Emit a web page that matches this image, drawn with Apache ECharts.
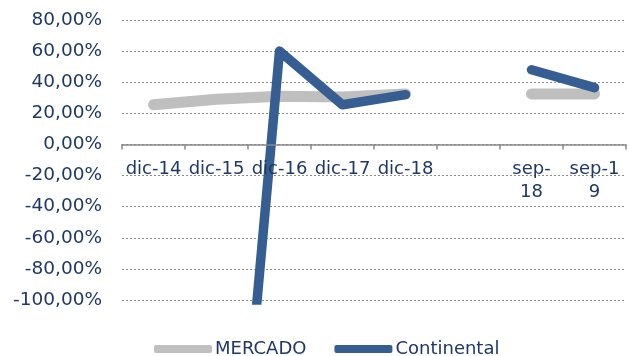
<!DOCTYPE html>
<html>
<head>
<meta charset="utf-8">
<script src="https://cdn.jsdelivr.net/npm/echarts@6/dist/echarts.min.js"></script>
<style>html,body{margin:0;padding:0;background:#fff}#c{width:629px;height:356px}</style>
</head>
<body>
<div id="c"></div>
<script>
const categories = ['dic-14', 'dic-15', 'dic-16', 'dic-17', 'dic-18', '', 'sep-\n18', 'sep-1\n9'];
const mercado = [25.5, 29, 31, 30.5, 32.5, null, 32.5, 32.5];
const continental = [null, -390, 60, 25.5, 32, null, 48, 36.5];
const seriesNames = ['MERCADO', 'Continental'];
const yMin = -100, yMax = 80, yStep = 20;

const textColor = '#1F3864';
const font = 'DejaVu Sans';
const gridTop = 20, gridBottom = 56, chartH = 356;
const plotH = chartH - gridTop - gridBottom;
// x axis sits on the zero line: shift it up from the grid bottom
const zeroOffset = -plotH * (0 - yMin) / (yMax - yMin);

const chart = echarts.init(document.getElementById('c'), null, {renderer: 'canvas'});
chart.setOption({
  animation: false,
  grid: {left: 122, right: 3, top: gridTop, bottom: gridBottom, containLabel: false},
  xAxis: {
    type: 'category',
    data: categories,
    boundaryGap: true,
    offset: zeroOffset,
    zlevel: 1,
    axisLine: {onZero: false, lineStyle: {color: '#898989', width: 1.5}},
    axisTick: {show: true, length: 5, lineStyle: {color: '#898989', width: 1.5}},
    axisLabel: {color: textColor, fontFamily: font, fontSize: 18, margin: 13, interval: 0, lineHeight: 23},
    splitLine: {show: false}
  },
  yAxis: {
    type: 'value',
    min: yMin, max: yMax, interval: yStep,
    axisLine: {show: false},
    axisTick: {show: false},
    axisLabel: {
      color: textColor, fontFamily: font, fontSize: 18.5, margin: 20,
      formatter: v => v.toFixed(2).replace('.', ',') + '%'
    },
    splitLine: {show: true, lineStyle: {color: '#8c8c8c', type: [2, 2], width: 1}}
  },
  legend: {
    left: 149, top: 335,
    itemWidth: 58, itemHeight: 8, itemGap: 28,
    textStyle: {color: textColor, fontFamily: font, fontSize: 18, padding: [0, 0, 0, -2]},
    data: [
      {name: seriesNames[0], icon: 'roundRect', itemStyle: {color: '#BFBFBF'}},
      {name: seriesNames[1], icon: 'roundRect', itemStyle: {color: '#375E92'}}
    ]
  },
  series: [
    {
      name: seriesNames[0], type: 'line', data: mercado, symbol: 'none', clip: true, z: 1,
      itemStyle: {color: '#BFBFBF'},
      lineStyle: {color: '#BFBFBF', width: 11, cap: 'round', join: 'round'}
    },
    {
      name: seriesNames[1], type: 'line', data: continental, symbol: 'none', clip: true, z: 2,
      itemStyle: {color: '#375E92'},
      lineStyle: {color: '#375E92', width: 9.5, cap: 'round', join: 'round'}
    }
  ]
});
</script>
</body>
</html>
